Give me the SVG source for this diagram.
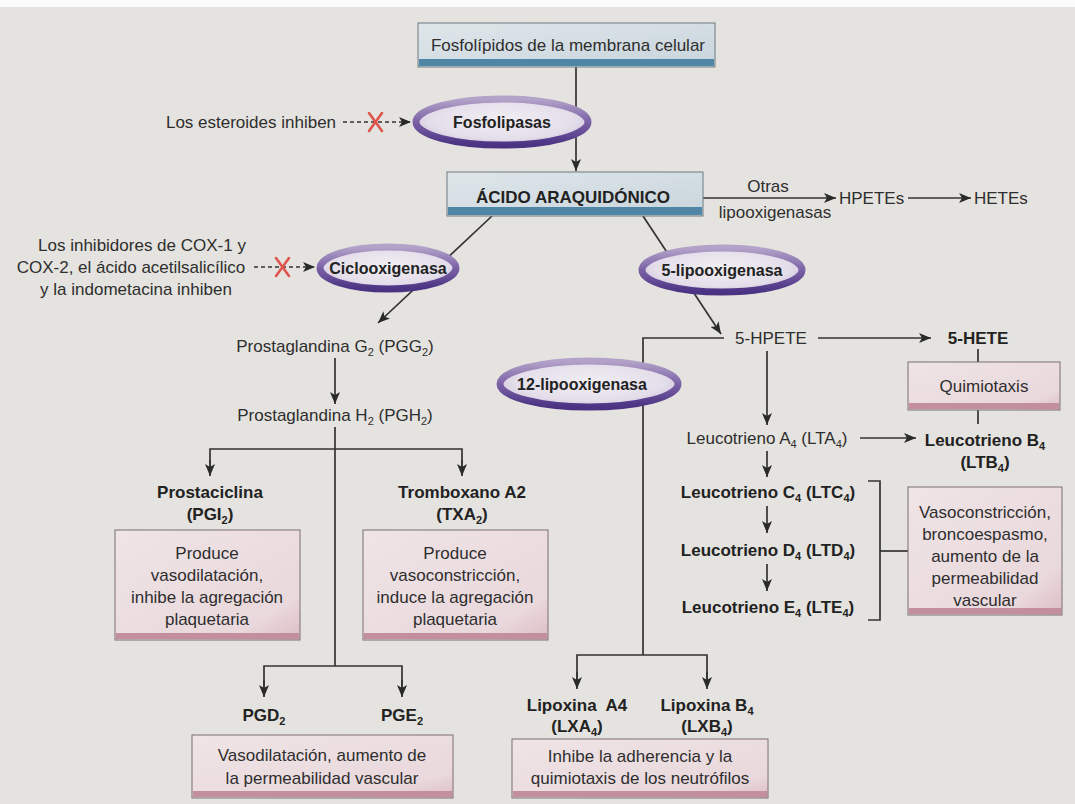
<svg xmlns="http://www.w3.org/2000/svg" width="1075" height="804" viewBox="0 0 1075 804">
  <defs>
    <style>
      .t { font-family: "Liberation Sans", Arial, sans-serif; font-size: 17px; fill: #2e2e2e; text-anchor: middle; }
      .l { text-anchor: start; }
      .b { font-weight: bold; fill: #222; }
      .e { font-size: 16px; }
      .ln { stroke: #333; stroke-width: 1.7; fill: none; }
      .dash { stroke: #333; stroke-width: 1.7; fill: none; stroke-dasharray: 4 3; }
      .x { stroke: #e0544e; stroke-width: 2.6; stroke-linecap: round; }
      .pink { fill: url(#pinkFill); stroke: #7d6e72; stroke-width: 1; }
      .pinkbar { fill: #c38f9d; }
      .blue { fill: url(#blueFill); stroke: #6d7a80; stroke-width: 1; }
      .bluebar { fill: #4f86a6; }
      .enz { fill: url(#enzFill); stroke: url(#enzRing); stroke-width: 7; }
    </style>
    <linearGradient id="pinkFill" x1="0" y1="0" x2="1" y2="1">
      <stop offset="0" stop-color="#efe4e6"/>
      <stop offset="0.8" stop-color="#e9d8dc"/>
      <stop offset="1" stop-color="#dcbdc5"/>
    </linearGradient>
    <linearGradient id="blueFill" x1="0" y1="0" x2="1" y2="1">
      <stop offset="0" stop-color="#dfe6ea"/>
      <stop offset="1" stop-color="#c8d5dc"/>
    </linearGradient>
    <linearGradient id="enzRing" x1="0" y1="0" x2="0" y2="1">
      <stop offset="0" stop-color="#b4a3c9"/>
      <stop offset="0.5" stop-color="#7b62a6"/>
      <stop offset="1" stop-color="#4b3283"/>
    </linearGradient>
    <radialGradient id="enzFill" cx="0.5" cy="0.45" r="0.6">
      <stop offset="0" stop-color="#f1eef3"/>
      <stop offset="0.7" stop-color="#e4deea"/>
      <stop offset="1" stop-color="#c9bcd8"/>
    </radialGradient>
    <marker id="ah" viewBox="0 0 12 10" refX="12" refY="5" markerWidth="12" markerHeight="10" markerUnits="userSpaceOnUse" orient="auto">
      <path d="M0,0 L12,5 L0,10 L3,5 Z" fill="#2a2a2a"/>
    </marker>
  </defs>

  <!-- page -->
  <rect x="0" y="0" width="1075" height="804" fill="#e5e3df"/>
  <rect x="0" y="0" width="1075" height="7" fill="#fbfbfb"/>

  <!-- connectors -->
  <g id="connectors">
    <!-- membrane -> acid (through Fosfolipasas) -->
    <line class="ln" x1="576" y1="67" x2="576" y2="171" marker-end="url(#ah)"/>
    <!-- steroid inhibition -->
    <line class="dash" x1="343" y1="122" x2="411" y2="122" marker-end="url(#ah)"/>
    <!-- COX inhibition -->
    <line class="dash" x1="254" y1="267" x2="315" y2="267" marker-end="url(#ah)"/>
    <!-- acid -> PGG2 -->
    <line class="ln" x1="492" y1="216" x2="378" y2="323" marker-end="url(#ah)"/>
    <!-- acid -> 5-HPETE -->
    <line class="ln" x1="643" y1="216" x2="721" y2="334" marker-end="url(#ah)"/>
    <!-- other lipoxygenases -->
    <line class="ln" x1="703" y1="198" x2="836" y2="198" marker-end="url(#ah)"/>
    <line class="ln" x1="908" y1="198" x2="971" y2="198" marker-end="url(#ah)"/>
    <!-- PGG2 -> PGH2 -->
    <line class="ln" x1="335" y1="358" x2="335" y2="404" marker-end="url(#ah)"/>
    <!-- PGH2 trunk -->
    <line class="ln" x1="335" y1="427" x2="335" y2="666"/>
    <path class="ln" d="M210,474 V449 H462 V474"/>
    <line class="ln" x1="210" y1="460" x2="210" y2="476" marker-end="url(#ah)"/>
    <line class="ln" x1="462" y1="460" x2="462" y2="476" marker-end="url(#ah)"/>
    <path class="ln" d="M264,694 V666 H402 V694"/>
    <line class="ln" x1="264" y1="680" x2="264" y2="697" marker-end="url(#ah)"/>
    <line class="ln" x1="402" y1="680" x2="402" y2="697" marker-end="url(#ah)"/>
    <!-- 5-HPETE branches -->
    <line class="ln" x1="818" y1="338" x2="931" y2="338" marker-end="url(#ah)"/>
    <path class="ln" d="M724,338 H643 V655"/>
    <path class="ln" d="M577,687 V655 H707 V687"/>
    <line class="ln" x1="577" y1="672" x2="577" y2="689" marker-end="url(#ah)"/>
    <line class="ln" x1="707" y1="672" x2="707" y2="689" marker-end="url(#ah)"/>
    <line class="ln" x1="767" y1="351" x2="767" y2="425" marker-end="url(#ah)"/>
    <line class="ln" x1="978" y1="349" x2="978" y2="362"/>
    <line class="ln" x1="978" y1="410" x2="978" y2="424"/>
    <line class="ln" x1="860" y1="438" x2="916" y2="438" marker-end="url(#ah)"/>
    <line class="ln" x1="767" y1="451" x2="767" y2="477" marker-end="url(#ah)"/>
    <line class="ln" x1="767" y1="506" x2="767" y2="533" marker-end="url(#ah)"/>
    <line class="ln" x1="767" y1="564" x2="767" y2="591" marker-end="url(#ah)"/>
    <!-- leukotriene bracket -->
    <path class="ln" d="M868,481 H880 V620 H868"/>
    <line class="ln" x1="880" y1="551" x2="908" y2="551"/>
  </g>

  <!-- inhibition marks -->
  <g id="inhibit-steroids">
    <text class="t" x="251" y="128">Los esteroides inhiben</text>
    <line class="x" x1="369" y1="113" x2="382" y2="131"/>
    <line class="x" x1="382" y1="113" x2="369" y2="131"/>
  </g>
  <g id="inhibit-cox">
    <text class="t" x="142" y="251">Los inhibidores de COX-1 y</text>
    <text class="t" x="131" y="273">COX-2, el ácido acetilsalicílico</text>
    <text class="t" x="136" y="295">y la indometacina inhiben</text>
    <line class="x" x1="276" y1="258" x2="289" y2="276"/>
    <line class="x" x1="289" y1="258" x2="276" y2="276"/>
  </g>

  <!-- membrane phospholipids -->
  <g id="membrana">
    <rect class="blue" x="418" y="23" width="297" height="44"/>
    <rect class="bluebar" x="419" y="59" width="295" height="7"/>
    <text class="t" x="568" y="51">Fosfolípidos de la membrana celular</text>
  </g>

  <g id="fosfolipasas">
    <ellipse class="enz" cx="502" cy="122" rx="86" ry="23"/>
    <text class="t b e" x="502" y="128">Fosfolipasas</text>
  </g>

  <g id="acido">
    <rect class="blue" x="447" y="172" width="256" height="44"/>
    <rect class="bluebar" x="448" y="207" width="254" height="8"/>
    <text class="t b" x="573" y="203">ÁCIDO ARAQUIDÓNICO</text>
  </g>

  <g id="otras-lipo">
    <text class="t" x="768" y="192">Otras</text>
    <text class="t" x="775" y="218">lipooxigenasas</text>
  </g>
  <g id="hpetes"><text class="t l" x="839" y="204">HPETEs</text></g>
  <g id="hetes"><text class="t l" x="974" y="204">HETEs</text></g>

  <g id="ciclooxigenasa">
    <ellipse class="enz" cx="388" cy="268" rx="68" ry="21"/>
    <text class="t b e" x="388" y="274">Ciclooxigenasa</text>
  </g>

  <g id="lipo5">
    <ellipse class="enz" cx="722" cy="270" rx="80" ry="22"/>
    <text class="t b e" x="722" y="276">5-lipooxigenasa</text>
  </g>

  <g id="pgg2">
    <text class="t" x="335" y="352">Prostaglandina G<tspan font-size="11" dy="4">2</tspan><tspan dy="-4"> (PGG</tspan><tspan font-size="11" dy="4">2</tspan><tspan dy="-4">)</tspan></text>
  </g>
  <g id="pgh2">
    <text class="t" x="335" y="421">Prostaglandina H<tspan font-size="11" dy="4">2</tspan><tspan dy="-4"> (PGH</tspan><tspan font-size="11" dy="4">2</tspan><tspan dy="-4">)</tspan></text>
  </g>

  <g id="prostaciclina">
    <text class="t b" x="210" y="498">Prostaciclina</text>
    <text class="t b" x="210" y="520">(PGI<tspan font-size="11" dy="4">2</tspan><tspan dy="-4">)</tspan></text>
    <rect class="pink" x="115" y="530" width="185" height="110"/>
    <rect class="pinkbar" x="116" y="633" width="183" height="6"/>
    <text class="t" x="207" y="559">Produce</text>
    <text class="t" x="207" y="581">vasodilatación,</text>
    <text class="t" x="207" y="603">inhibe la agregación</text>
    <text class="t" x="207" y="625">plaquetaria</text>
  </g>

  <g id="tromboxano">
    <text class="t b" x="462" y="498">Tromboxano A2</text>
    <text class="t b" x="462" y="520">(TXA<tspan font-size="11" dy="4">2</tspan><tspan dy="-4">)</tspan></text>
    <rect class="pink" x="363" y="530" width="185" height="110"/>
    <rect class="pinkbar" x="364" y="633" width="183" height="6"/>
    <text class="t" x="455" y="559">Produce</text>
    <text class="t" x="455" y="581">vasoconstricción,</text>
    <text class="t" x="455" y="603">induce la agregación</text>
    <text class="t" x="455" y="625">plaquetaria</text>
  </g>

  <g id="pgd2-pge2">
    <text class="t b" x="264" y="721">PGD<tspan font-size="11" dy="4">2</tspan></text>
    <text class="t b" x="402" y="721">PGE<tspan font-size="11" dy="4">2</tspan></text>
    <rect class="pink" x="192" y="735" width="261" height="63"/>
    <rect class="pinkbar" x="193" y="791" width="259" height="6"/>
    <text class="t" x="322" y="761">Vasodilatación, aumento de</text>
    <text class="t" x="322" y="784">la permeabilidad vascular</text>
  </g>

  <g id="lipo12">
    <ellipse class="enz" cx="589" cy="384" rx="89" ry="23"/>
    <text class="t b e" x="582" y="390">12-lipooxigenasa</text>
  </g>

  <g id="lipoxinas">
    <text class="t b" x="577" y="711" xml:space="preserve">Lipoxina  A4</text>
    <text class="t b" x="577" y="732">(LXA<tspan font-size="11" dy="4">4</tspan><tspan dy="-4">)</tspan></text>
    <text class="t b" x="707" y="711">Lipoxina B<tspan font-size="11" dy="4">4</tspan></text>
    <text class="t b" x="707" y="732">(LXB<tspan font-size="11" dy="4">4</tspan><tspan dy="-4">)</tspan></text>
    <rect class="pink" x="512" y="739" width="256" height="59"/>
    <rect class="pinkbar" x="513" y="791" width="254" height="6"/>
    <text class="t" x="640" y="762">Inhibe la adherencia y la</text>
    <text class="t" x="640" y="784">quimiotaxis de los neutrófilos</text>
  </g>

  <g id="hpete5"><text class="t" x="771" y="344">5-HPETE</text></g>

  <g id="hete5">
    <text class="t b" x="978" y="344">5-HETE</text>
    <rect class="pink" x="908" y="362" width="152" height="48"/>
    <rect class="pinkbar" x="909" y="403" width="150" height="6"/>
    <text class="t" x="984" y="392">Quimiotaxis</text>
  </g>

  <g id="lta4">
    <text class="t" x="767" y="444">Leucotrieno A<tspan font-size="11" dy="4">4</tspan><tspan dy="-4"> (LTA</tspan><tspan font-size="11" dy="4">4</tspan><tspan dy="-4">)</tspan></text>
  </g>
  <g id="ltb4">
    <text class="t b" x="985" y="446">Leucotrieno B<tspan font-size="11" dy="4">4</tspan></text>
    <text class="t b" x="985" y="468">(LTB<tspan font-size="11" dy="4">4</tspan><tspan dy="-4">)</tspan></text>
  </g>
  <g id="ltc4">
    <text class="t b" x="768" y="498">Leucotrieno C<tspan font-size="11" dy="4">4</tspan><tspan dy="-4"> (LTC</tspan><tspan font-size="11" dy="4">4</tspan><tspan dy="-4">)</tspan></text>
  </g>
  <g id="ltd4">
    <text class="t b" x="768" y="556">Leucotrieno D<tspan font-size="11" dy="4">4</tspan><tspan dy="-4"> (LTD</tspan><tspan font-size="11" dy="4">4</tspan><tspan dy="-4">)</tspan></text>
  </g>
  <g id="lte4">
    <text class="t b" x="768" y="613">Leucotrieno E<tspan font-size="11" dy="4">4</tspan><tspan dy="-4"> (LTE</tspan><tspan font-size="11" dy="4">4</tspan><tspan dy="-4">)</tspan></text>
  </g>

  <g id="efectos-lt">
    <rect class="pink" x="908" y="487" width="154" height="128"/>
    <rect class="pinkbar" x="909" y="608" width="152" height="6"/>
    <text class="t" x="985" y="518">Vasoconstricción,</text>
    <text class="t" x="985" y="540">broncoespasmo,</text>
    <text class="t" x="985" y="562">aumento de la</text>
    <text class="t" x="985" y="584">permeabilidad</text>
    <text class="t" x="985" y="606">vascular</text>
  </g>
</svg>
